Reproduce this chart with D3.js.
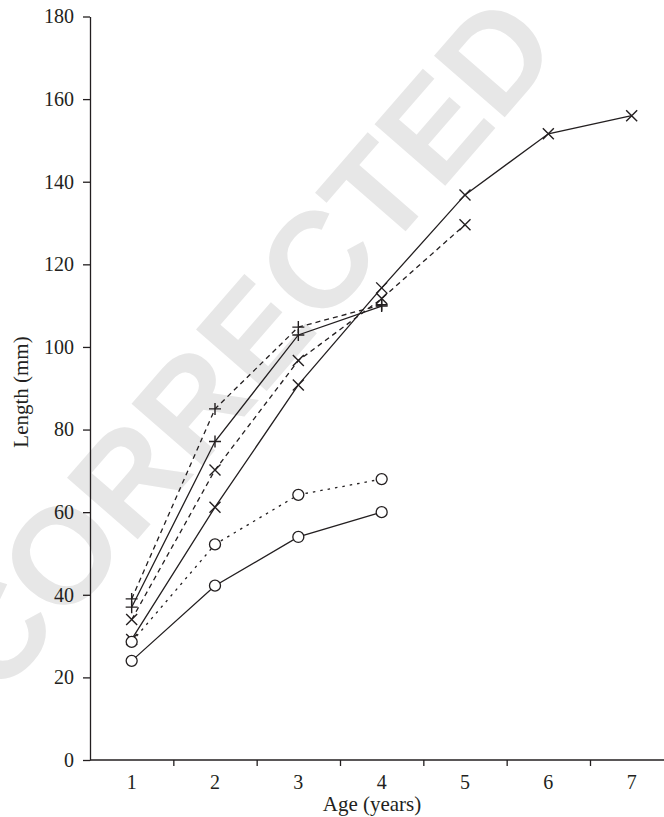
<!DOCTYPE html>
<html>
<head>
<meta charset="utf-8">
<script src="https://cdn.jsdelivr.net/npm/d3@7"></script>
<style>
  html, body { margin: 0; padding: 0; background: #fff; }
  svg { display: block; }
  .axis text { font-family: "Liberation Serif", "DejaVu Serif", "Times New Roman", serif; font-size: 20px; fill: #231f20; }
  .axis path, .axis line { stroke: #231f20; stroke-width: 1.3; }
  .title { font-family: "Liberation Serif", "DejaVu Serif", "Times New Roman", serif; font-size: 21px; fill: #231f20; }
</style>
</head>
<body>
<div class="chart-container"></div>
<script>
"use strict";

// ages on the x axis
let ages = [1, 2, 3, 4, 5, 6, 7];
let xTicks = [1, 2, 3, 4, 5, 6, 7];
let yTicks = [0, 20, 40, 60, 80, 100, 120, 140, 160, 180];

// lengths (mm), one array per series
let plusDashed = [39, 85, 104.8, 110.2];
let plusSolid = [37, 77.1, 102.9, 109.9];
let crossDashed = [34, 70.2, 96.7, 111.7, 129.6];
let crossSolid = [29.2, 61.2, 90.8, 114.3, 136.8, 151.6, 156];
let circleDotted = [28.6, 52.2, 64.2, 68];
let circleSolid = [24, 42.2, 54, 60];

let series = [
  { values: plusDashed, marker: "plus", dash: "5,4" },
  { values: plusSolid, marker: "plus", dash: null },
  { values: crossDashed, marker: "cross", dash: "5,4" },
  { values: crossSolid, marker: "cross", dash: null },
  { values: circleDotted, marker: "circle", dash: "2.5,5" },
  { values: circleSolid, marker: "circle", dash: null }
];

let width = 664, height = 817;
let ink = "#231f20";

let svg = d3.select(".chart-container").append("svg")
  .attr("width", width)
  .attr("height", height);

// faint watermark behind everything
svg.append("text")
  .attr("transform", "translate(-2,700) rotate(-49)")
  .attr("font-family", "'Liberation Sans', Arial, sans-serif")
  .attr("font-weight", "bold")
  .attr("font-size", 136)
  .attr("fill", "#e7e7e7")
  .text("CORRECTED");

let x = d3.scaleLinear().domain([0.5, 7.388]).range([90, 664]);
let y = d3.scaleLinear().domain([0, 180]).range([760, 16.5]);

// y axis
svg.append("g")
  .attr("class", "axis")
  .attr("transform", "translate(90,0)")
  .call(d3.axisLeft(y).tickValues(yTicks).tickSize(7).tickPadding(9).tickSizeOuter(0));

// x axis: ticks sit between the years, labels under the years
let xAxis = svg.append("g")
  .attr("class", "axis")
  .attr("transform", "translate(0,760)")
  .call(d3.axisBottom(x).tickValues([1.5, 2.5, 3.5, 4.5, 5.5, 6.5]).tickSize(6).tickSizeOuter(0).tickFormat(""));
xAxis.selectAll(".domain").attr("d", "M90,0H664");

svg.append("g")
  .attr("class", "axis")
  .selectAll("text")
  .data(xTicks)
  .enter().append("text")
  .attr("x", (d) => x(d))
  .attr("y", 789)
  .attr("text-anchor", "middle")
  .text((d) => d);

svg.append("text")
  .attr("class", "title")
  .attr("x", 372)
  .attr("y", 811)
  .attr("text-anchor", "middle")
  .text("Age (years)");

svg.append("text")
  .attr("class", "title")
  .attr("transform", "translate(28,392) rotate(-90)")
  .attr("text-anchor", "middle")
  .text("Length (mm)");

let line = d3.line()
  .x((d, i) => x(ages[i]))
  .y((d) => y(d));

// lines first
svg.append("g").selectAll("path")
  .data(series)
  .enter().append("path")
  .attr("d", (s) => line(s.values))
  .attr("fill", "none")
  .attr("stroke", ink)
  .attr("stroke-width", 1.3)
  .attr("stroke-dasharray", (s) => s.dash);

// then markers on top
series.forEach((s) => {
  let g = svg.append("g");
  s.values.forEach((v, i) => {
    let cx = x(ages[i]), cy = y(v);
    if (s.marker === "circle") {
      g.append("circle")
        .attr("cx", cx).attr("cy", cy).attr("r", 5.5)
        .attr("fill", "#fff").attr("stroke", ink).attr("stroke-width", 1.3);
    } else if (s.marker === "plus") {
      g.append("path")
        .attr("d", "M" + (cx - 6) + "," + cy + "H" + (cx + 6) + "M" + cx + "," + (cy - 6) + "V" + (cy + 6))
        .attr("stroke", ink).attr("stroke-width", 1.4);
    } else {
      g.append("path")
        .attr("d", "M" + (cx - 5.5) + "," + (cy - 5.5) + "L" + (cx + 5.5) + "," + (cy + 5.5)
          + "M" + (cx - 5.5) + "," + (cy + 5.5) + "L" + (cx + 5.5) + "," + (cy - 5.5))
        .attr("stroke", ink).attr("stroke-width", 1.4);
    }
  });
});
</script>
</body>
</html>
